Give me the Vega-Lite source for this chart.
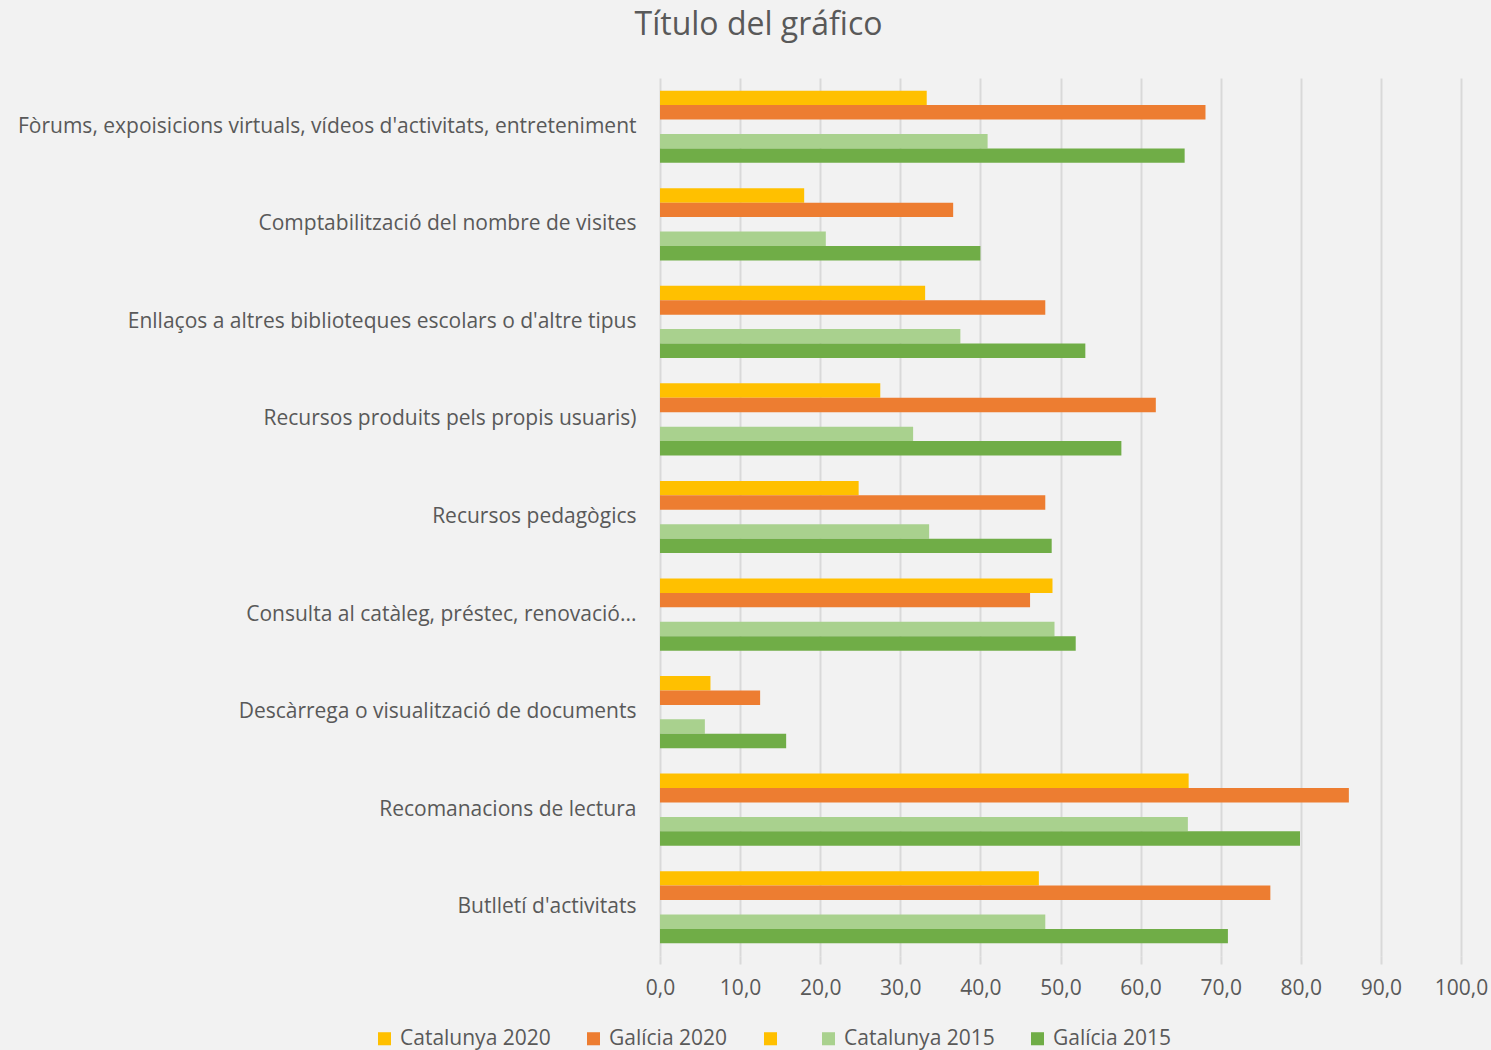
{
  "$schema": "https://vega.github.io/schema/vega-lite/v6.json",
  "autosize": "none",
  "width": 801,
  "height": 878,
  "padding": {"left": 660, "top": 78, "right": 30, "bottom": 94},
  "background": "#f2f2f2",
  "config": {
    "view": {"stroke": null},
    "font": "Open Sans"
  },
  "title": {
    "text": "Título del gráfico",
    "fontSize": 32,
    "font": "Open Sans",
    "fontWeight": "normal",
    "color": "#595959",
    "anchor": "middle",
    "dx": -302,
    "offset": 36
  },
  "data": {
    "values": [
      {"category": "Fòrums, expoisicions virtuals, vídeos d'activitats, entreteniment", "series": "Catalunya 2020", "value": 33.3},
      {"category": "Fòrums, expoisicions virtuals, vídeos d'activitats, entreteniment", "series": "Galícia 2020", "value": 68.1},
      {"category": "Fòrums, expoisicions virtuals, vídeos d'activitats, entreteniment", "series": "Catalunya 2015", "value": 40.9},
      {"category": "Fòrums, expoisicions virtuals, vídeos d'activitats, entreteniment", "series": "Galícia 2015", "value": 65.5},
      {"category": "Comptabilització del nombre de visites", "series": "Catalunya 2020", "value": 18.0},
      {"category": "Comptabilització del nombre de visites", "series": "Galícia 2020", "value": 36.6},
      {"category": "Comptabilització del nombre de visites", "series": "Catalunya 2015", "value": 20.7},
      {"category": "Comptabilització del nombre de visites", "series": "Galícia 2015", "value": 40.0},
      {"category": "Enllaços a altres biblioteques escolars o d'altre tipus", "series": "Catalunya 2020", "value": 33.1},
      {"category": "Enllaços a altres biblioteques escolars o d'altre tipus", "series": "Galícia 2020", "value": 48.1},
      {"category": "Enllaços a altres biblioteques escolars o d'altre tipus", "series": "Catalunya 2015", "value": 37.5},
      {"category": "Enllaços a altres biblioteques escolars o d'altre tipus", "series": "Galícia 2015", "value": 53.1},
      {"category": "Recursos produits pels propis usuaris)", "series": "Catalunya 2020", "value": 27.5},
      {"category": "Recursos produits pels propis usuaris)", "series": "Galícia 2020", "value": 61.9},
      {"category": "Recursos produits pels propis usuaris)", "series": "Catalunya 2015", "value": 31.6},
      {"category": "Recursos produits pels propis usuaris)", "series": "Galícia 2015", "value": 57.6},
      {"category": "Recursos pedagògics", "series": "Catalunya 2020", "value": 24.8},
      {"category": "Recursos pedagògics", "series": "Galícia 2020", "value": 48.1},
      {"category": "Recursos pedagògics", "series": "Catalunya 2015", "value": 33.6},
      {"category": "Recursos pedagògics", "series": "Galícia 2015", "value": 48.9},
      {"category": "Consulta al catàleg, préstec, renovació...", "series": "Catalunya 2020", "value": 49.0},
      {"category": "Consulta al catàleg, préstec, renovació...", "series": "Galícia 2020", "value": 46.2},
      {"category": "Consulta al catàleg, préstec, renovació...", "series": "Catalunya 2015", "value": 49.25},
      {"category": "Consulta al catàleg, préstec, renovació...", "series": "Galícia 2015", "value": 51.9},
      {"category": "Descàrrega o visualització de documents", "series": "Catalunya 2020", "value": 6.3},
      {"category": "Descàrrega o visualització de documents", "series": "Galícia 2020", "value": 12.5},
      {"category": "Descàrrega o visualització de documents", "series": "Catalunya 2015", "value": 5.6},
      {"category": "Descàrrega o visualització de documents", "series": "Galícia 2015", "value": 15.75},
      {"category": "Recomanacions de lectura", "series": "Catalunya 2020", "value": 66.0},
      {"category": "Recomanacions de lectura", "series": "Galícia 2020", "value": 86.0},
      {"category": "Recomanacions de lectura", "series": "Catalunya 2015", "value": 65.9},
      {"category": "Recomanacions de lectura", "series": "Galícia 2015", "value": 79.9},
      {"category": "Butlletí d'activitats", "series": "Catalunya 2020", "value": 47.3},
      {"category": "Butlletí d'activitats", "series": "Galícia 2020", "value": 76.2},
      {"category": "Butlletí d'activitats", "series": "Catalunya 2015", "value": 48.1},
      {"category": "Butlletí d'activitats", "series": "Galícia 2015", "value": 70.9}
    ]
  },
  "mark": {"type": "bar"},
  "encoding": {
    "y": {
      "field": "category",
      "type": "nominal",
      "sort": null,
      "title": null,
      "scale": {"paddingInner": 0.26, "paddingOuter": 0.13},
      "axis": {
        "domain": false,
        "ticks": false,
        "labelPadding": 24,
        "labelFontSize": 21,
        "labelColor": "#595959",
        "labelLimit": 700
      }
    },
    "yOffset": {
      "field": "series",
      "type": "nominal",
      "scale": {
        "domain": ["Catalunya 2020", "Galícia 2020", "_blank", "Catalunya 2015", "Galícia 2015"],
        "paddingInner": 0,
        "paddingOuter": 0
      }
    },
    "x": {
      "field": "value",
      "type": "quantitative",
      "title": null,
      "scale": {"domain": [0, 100], "nice": false},
      "axis": {
        "values": [0, 10, 20, 30, 40, 50, 60, 70, 80, 90, 100],
        "labelExpr": "replace(format(datum.value, '.1f'), '.', ',')",
        "labelFlush": false,
        "labelOverlap": false,
        "domain": false,
        "ticks": true,
        "tickSize": 8,
        "tickColor": "#d9d9d9",
        "tickWidth": 2,
        "grid": true,
        "gridColor": "#d9d9d9",
        "gridWidth": 2,
        "labelFontSize": 21,
        "labelColor": "#595959",
        "labelPadding": 13
      }
    },
    "color": {
      "field": "series",
      "type": "nominal",
      "title": null,
      "scale": {
        "domain": ["Catalunya 2020", "Galícia 2020", "_blank", "Catalunya 2015", "Galícia 2015"],
        "range": ["#ffc000", "#ed7d31", "#ffc000", "#a9d18e", "#70ad47"]
      },
      "legend": {
        "orient": "none",
        "direction": "horizontal",
        "legendX": -286,
        "legendY": 950,
        "symbolType": "square",
        "symbolSize": 170,
        "symbolStrokeWidth": 0,
        "labelFontSize": 21,
        "labelColor": "#595959",
        "labelOffset": 5,
        "columnPadding": 32,
        "labelExpr": "datum.label == '_blank' ? '' : datum.label"
      }
    }
  }
}
